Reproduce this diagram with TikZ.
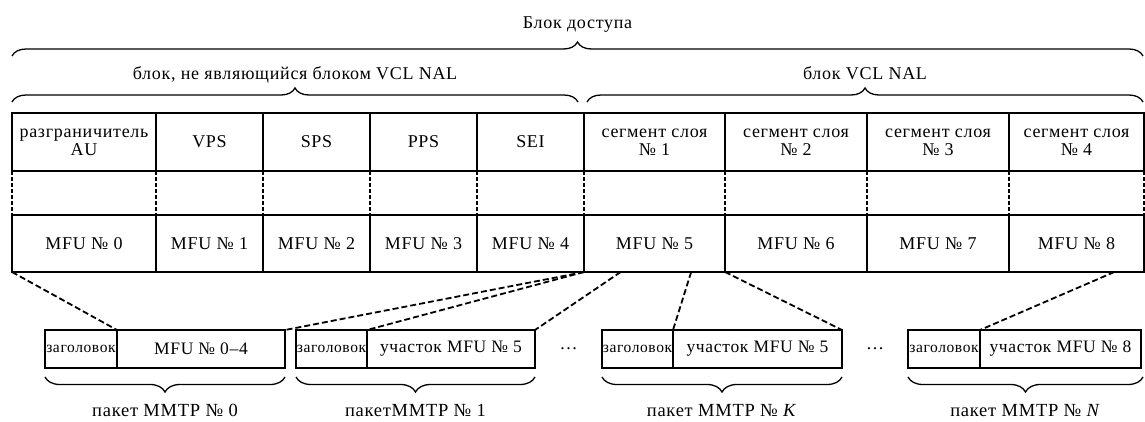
\documentclass[tikz,border=0pt]{standalone}
\usepackage{fontspec}
\setmainfont{Liberation Serif}[LetterSpace=4]
\usepackage{tikz}
\usetikzlibrary{positioning,calc,decorations.pathreplacing}

\begin{document}
\begin{tikzpicture}[
  x=1pt, y=-1pt,
  font=\fontsize{18}{18}\selectfont,
  cell/.style  = {draw, line width=2.4pt, outer sep=0pt, inner sep=1pt,
                  align=center, minimum height=58pt},
  mcell/.style = {cell, minimum height=57pt},
  pcell/.style = {draw, line width=2.4pt, outer sep=0pt, inner sep=0pt,
                  minimum height=38pt, font=\fontsize{17.5}{18}\selectfont},
  hcell/.style = {pcell, font=\fontsize{15.5}{16}\selectfont},
  vdash/.style = {line width=2.4pt, dash pattern=on 4pt off 2pt},
  conn/.style  = {line width=1.8pt, dash pattern=on 6pt off 3pt},
  brc/.style   = {decorate, decoration={brace, amplitude=14pt},
                  line width=1.3pt},
  bbrc/.style  = {decorate, decoration={brace, mirror, amplitude=15pt},
                  line width=1.3pt},
  lbl/.style   = {inner sep=0pt, text height=12pt, text depth=4pt},
]
\useasboundingbox (0,0) rectangle (1145,421);

%-- Access unit: NAL units ----------------------------------------------------
\node[cell, anchor=north west, minimum width=144pt] (au) at (12,113)
    {разграничитель\\AU};
\node[cell, minimum width=107pt, right=0pt of au]  (vps) {VPS};
\node[cell, minimum width=107pt, right=0pt of vps] (sps) {SPS};
\node[cell, minimum width=107pt, right=0pt of sps] (pps) {PPS};
\node[cell, minimum width=107pt, right=0pt of pps] (sei) {SEI};
\node[cell, minimum width=141pt, right=0pt of sei] (sg1) {сегмент слоя\\№~1};
\node[cell, minimum width=142pt, right=0pt of sg1] (sg2) {сегмент слоя\\№~2};
\node[cell, minimum width=142pt, right=0pt of sg2] (sg3) {сегмент слоя\\№~3};
\node[cell, minimum width=135pt, right=0pt of sg3] (sg4) {сегмент слоя\\№~4};

%-- MFU row -------------------------------------------------------------------
\node[mcell, minimum width=144pt, below=44pt of au]  (m0) {MFU №~0};
\node[mcell, minimum width=107pt, below=44pt of vps] (m1) {MFU №~1};
\node[mcell, minimum width=107pt, below=44pt of sps] (m2) {MFU №~2};
\node[mcell, minimum width=107pt, below=44pt of pps] (m3) {MFU №~3};
\node[mcell, minimum width=107pt, below=44pt of sei] (m4) {MFU №~4};
\node[mcell, minimum width=141pt, below=44pt of sg1] (m5) {MFU №~5};
\node[mcell, minimum width=142pt, below=44pt of sg2] (m6) {MFU №~6};
\node[mcell, minimum width=142pt, below=44pt of sg3] (m7) {MFU №~7};
\node[mcell, minimum width=135pt, below=44pt of sg4] (m8) {MFU №~8};

\draw[vdash] (au.south west)  -- (m0.north west)
             (vps.south west) -- (m1.north west)
             (sps.south west) -- (m2.north west)
             (pps.south west) -- (m3.north west)
             (sei.south west) -- (m4.north west)
             (sg1.south west) -- (m5.north west)
             (sg2.south west) -- (m6.north west)
             (sg3.south west) -- (m7.north west)
             (sg4.south west) -- (m8.north west)
             (sg4.south east) -- (m8.north east);

%-- Braces above --------------------------------------------------------------
\draw[brc] ($(au.north west)+(0,-57)$) -- ($(sg4.north east)+(-1,-57)$)
    node[lbl, midway, above=23pt] {Блок доступа};
\draw[brc] ($(au.north west)+(0,-11)$) -- ($(sei.north east)+(-6,-11)$)
    node[lbl, midway, above=18pt] {блок, не являющийся блоком VCL NAL};
\draw[brc] ($(sg1.north west)+(3,-11)$) -- ($(sg4.north east)+(-1,-11)$)
    node[lbl, midway, above=18pt] {блок VCL NAL};

%-- MMTP packets --------------------------------------------------------------
\node[hcell, anchor=north west, minimum width=72pt] (h0) at (45,330) {заголовок};
\node[pcell, minimum width=168pt, right=0pt of h0]  (p0) {MFU №~0--4};
\node[hcell, minimum width=71pt,  right=11pt of p0] (h1) {заголовок};
\node[pcell, minimum width=168pt, right=0pt of h1]  (p1) {участок MFU №~5};
\node[hcell, minimum width=71pt,  right=67pt of p1] (hk) {заголовок};
\node[pcell, minimum width=169pt, right=0pt of hk]  (pk) {участок MFU №~5};
\node[hcell, minimum width=72pt,  right=66pt of pk] (hn) {заголовок};
\node[pcell, minimum width=161pt, right=0pt of hn]  (pn) {участок MFU №~8};

\node (d1) at ($(p1.east)!0.5!(hk.west)$) {\dots};
\node (d2) at ($(pk.east)!0.5!(hn.west)$) {\dots};

%-- MFU to packet mapping -----------------------------------------------------
\coordinate (m5a) at ($(m5.south west)!0.26!(m5.south east)$);
\coordinate (m5b) at ($(m5.south west)!0.76!(m5.south east)$);
\coordinate (m8a) at ($(m8.south west)!0.78!(m8.south east)$);

\draw[conn] (m0.south west) -- (h0.north east);
\draw[conn] (m4.south east) -- (p0.north east);
\draw[conn] (m4.south east) -- (h1.north east);
\draw[conn] (m5a)           -- (p1.north east);
\draw[conn] (m5b)           -- (hk.north east);
\draw[conn] (m5.south east) -- (pk.north east);
\draw[conn] (m8a)           -- (hn.north east);

%-- Braces below --------------------------------------------------------------
\draw[bbrc] ($(h0.south west)+(0,9)$) -- ($(p0.south east)+(0,9)$)
    node[lbl, midway, below=27pt, font=\fontsize{18.5}{18}\selectfont]
    {пакет MMTP №~0};
\draw[bbrc] ($(h1.south west)+(0,9)$) -- ($(p1.south east)+(0,9)$)
    node[lbl, midway, below=27pt, font=\fontsize{18.5}{18}\selectfont]
    {пакетMMTP №~1};
\draw[bbrc] ($(hk.south west)+(0,9)$) -- ($(pk.south east)+(0,9)$)
    node[lbl, midway, below=27pt, font=\fontsize{18.5}{18}\selectfont]
    {пакет MMTP №~\textit{K}};
\draw[bbrc] ($(hn.south west)+(0,9)$) -- ($(pn.south east)+(2,9)$)
    node[lbl, midway, below=27pt, font=\fontsize{18.5}{18}\selectfont]
    {пакет MMTP №~\textit{N}};

\end{tikzpicture}
\end{document}
